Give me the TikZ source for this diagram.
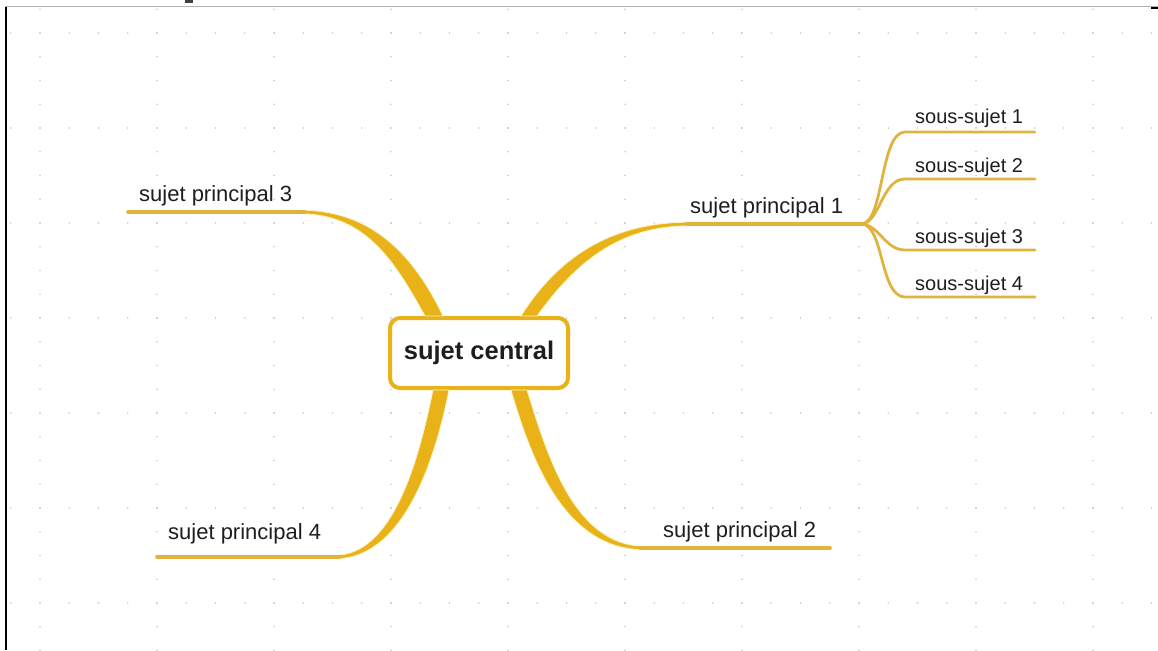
\documentclass[tikz,border=0pt]{standalone}
\usepackage{fontspec}
\setmainfont{Liberation Sans}
\usepackage{tikz}
\usetikzlibrary{calc}
\definecolor{gold}{RGB}{232,178,24}
\definecolor{lgold}{RGB}{222,180,62}
\definecolor{halo}{RGB}{252,242,190}
\definecolor{dotgray}{RGB}{200,200,200}
\definecolor{ink}{RGB}{30,30,30}

\begin{document}
\begin{tikzpicture}[x=1pt,y=-1pt,
    central/.style={draw=gold,line width=4pt,rounded corners=10pt,minimum width=178pt,minimum height=70pt,
                    font=\bfseries\fontsize{25.5}{30}\selectfont,text=ink},
    mainlbl/.style={inner sep=0pt,anchor=base west,font=\fontsize{22}{26}\selectfont,text=ink},
    sublbl/.style={inner sep=0pt,anchor=base west,font=\fontsize{20}{24}\selectfont,text=ink},
    mainline/.style={draw=lgold,line width=3.6pt,line cap=round},
    subline/.style={draw=lgold,line width=2.8pt,line cap=round},
    branch/.style={fill=gold,draw=halo,line width=0.8pt}]
  \useasboundingbox (0,0) rectangle (1158,650);
  % dotted page grid
  \foreach \r in {0,...,6}
    \foreach \c in {0,...,39}
      \fill[dotgray] (10.75+29.25*\c,33+95*\r) circle (0.85pt);
  \foreach \c in {0,...,9}
    \foreach \m in {0,...,27}
      \fill[dotgray] (40+117*\c,9.25+23.75*\m) circle (0.85pt);
  % page edges
  \draw[gray!60,line width=1pt] (5,7) -- (1158,7);
  \draw[black,line width=2pt] (6,7) -- (6,650);
  \draw[black,line width=1.5pt] (1151,8) -- (1158,8);
  \fill[black!75] (185,0) rectangle (193,3);

  \node[central] (central) at (479,353) {sujet central};

  % labels
  \node[mainlbl] (sp1) at (690,213) {sujet principal 1};
  \node[mainlbl] (sp2) at (663,537) {sujet principal 2};
  \node[mainlbl] (sp3) at (139,201) {sujet principal 3};
  \node[mainlbl] (sp4) at (168,539) {sujet principal 4};
  \node[sublbl] (ss1) at (915,124) {sous-sujet 1};
  \node[sublbl] (ss2) at (915,172) {sous-sujet 2};
  \node[sublbl] (ss3) at (915,243) {sous-sujet 3};
  \node[sublbl] (ss4) at (915,290) {sous-sujet 4};

  % line ends
  \coordinate (fork) at (862,224);
  \coordinate (sp1s) at (686,224);
  \coordinate (sp2s) at (640,548);
  \coordinate (sp2e) at (830,548);
  \coordinate (sp3s) at (305,212);
  \coordinate (sp3e) at (128,212);
  \coordinate (sp4s) at (340,557);
  \coordinate (sp4e) at (157,557);

  % thick branches out of the central box
  \filldraw[branch] ($(central.north)+(42,0)$) .. controls (562,251) and (618,222.2) .. (690,222.2)
    -- (690,225.8) .. controls (622,225.8) and (578,259) .. ($(central.north)+(58,0)$) -- cycle;
  \filldraw[branch] ($(central.north)+(-54,0)$) .. controls (396,264) and (367,213.8) .. (300,213.8)
    -- (300,210.2) .. controls (373,210.2) and (414,256) .. ($(central.north)+(-36,0)$) -- cycle;
  \filldraw[branch] ($(central.south)+(-46,0)$) .. controls (417,470) and (390,555.2) .. (335,555.2)
    -- (335,558.8) .. controls (400,558.8) and (433,470) .. ($(central.south)+(-30,0)$) -- cycle;
  \filldraw[branch] ($(central.south)+(32,0)$) .. controls (532,462) and (565,549.8) .. (645,549.8)
    -- (645,546.2) .. controls (575,546.2) and (548,458) .. ($(central.south)+(48,0)$) -- cycle;

  % main lines
  \draw[mainline] (sp1s) -- (fork);
  \draw[mainline] (sp2s) -- (sp2e);
  \draw[mainline] (sp3s) -- (sp3e);
  \draw[mainline] (sp4s) -- (sp4e);

  % sub-topics
  \draw[subline] (fork) .. controls (884,222) and (880,132) .. (905,132) -- (1035,132);
  \draw[subline] (fork) .. controls (880,222) and (882,179) .. (905,179) -- (1035,179);
  \draw[subline] (fork) .. controls (880,226) and (885,250) .. (905,250) -- (1035,250);
  \draw[subline] (fork) .. controls (884,226) and (880,297) .. (905,297) -- (1035,297);
\end{tikzpicture}
\end{document}
